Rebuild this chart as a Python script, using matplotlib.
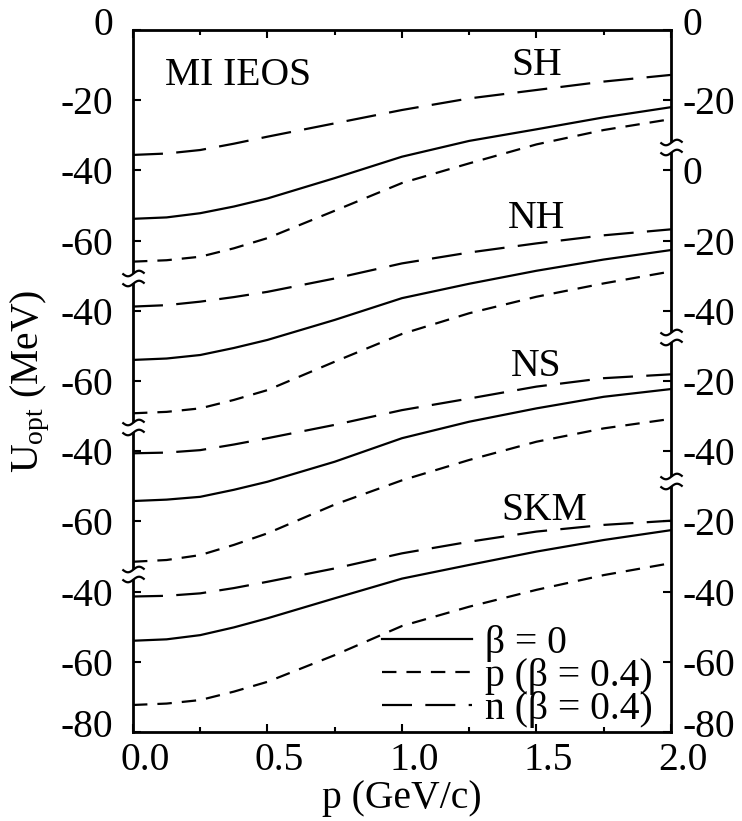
"""Optical potential U_opt vs momentum for the MI IEOS (SH, NH, NS, SKM), stacked panels with broken y axes."""

import numpy as np
import matplotlib
matplotlib.use('Agg')
import matplotlib.pyplot as plt
from matplotlib.path import Path
from matplotlib.ticker import FixedLocator, MultipleLocator
from matplotlib.transforms import blended_transform_factory, ScaledTranslation

plt.rcParams['font.family'] = ['Liberation Serif', 'DejaVu Serif']
plt.rcParams['mathtext.fontset'] = 'custom'
plt.rcParams['mathtext.rm'] = 'Liberation Serif'
plt.rcParams['mathtext.it'] = 'Liberation Serif:italic'

# momentum grid (GeV/c)
p_mom = [0.0, 0.125, 0.25, 0.375, 0.5, 0.75, 1.0, 1.25, 1.5, 1.75, 2.0]

# U_opt (MeV): beta=0, proton (beta=0.4), neutron (beta=0.4)
sh_beta0 = [-53.8, -53.4, -52.2, -50.3, -48.0, -42.2, -36.1, -31.6, -28.3, -24.9, -22.0]
sh_prot = [-66.0, -65.6, -64.6, -62.2, -59.3, -51.5, -43.6, -38.0, -32.6, -28.5, -25.4]
sh_neut = [-35.6, -35.2, -34.2, -32.4, -30.4, -26.6, -22.8, -19.5, -17.1, -14.7, -12.8]

nh_beta0 = [-54.0, -53.6, -52.6, -50.6, -48.3, -42.6, -36.4, -32.3, -28.6, -25.4, -22.7]
nh_prot = [-69.2, -68.8, -67.8, -65.4, -62.6, -54.5, -46.6, -40.7, -36.0, -32.2, -28.8]
nh_neut = [-38.8, -38.4, -37.4, -36.1, -34.6, -30.8, -26.5, -23.4, -20.8, -18.5, -16.8]

ns_beta0 = [-54.2, -53.8, -53.0, -51.0, -48.7, -43.0, -36.3, -31.6, -27.8, -24.5, -22.3]
ns_prot = [-71.5, -71.0, -69.6, -66.7, -63.4, -55.2, -48.3, -42.5, -37.3, -33.5, -30.8]
ns_neut = [-40.6, -40.4, -39.7, -38.1, -36.3, -32.5, -28.3, -25.0, -21.6, -19.2, -18.1]

skm_beta0 = [-54.0, -53.6, -52.4, -50.2, -47.6, -41.9, -36.3, -32.4, -28.6, -25.3, -22.5]
skm_prot = [-72.3, -71.9, -70.9, -68.5, -65.7, -58.1, -49.8, -44.3, -39.5, -35.3, -31.9]
skm_neut = [-41.4, -41.2, -40.5, -39.0, -37.2, -33.4, -29.1, -25.8, -22.9, -21.0, -19.8]

modelos = ['SH', 'NH', 'NS', 'SKM']
curvas = [
    (sh_beta0, sh_prot, sh_neut),
    (nh_beta0, nh_prot, nh_neut),
    (ns_beta0, ns_prot, ns_neut),
    (skm_beta0, skm_prot, skm_neut),
]
# vertical shift of each panel on the common axis
offsets = [0, -40, -80, -120]

# tick values shown on each panel (real MeV values)
left_ticks = [[0, -20, -40, -60], [-40, -60], [-40, -60], [-40, -60, -80]]
right_ticks = [[0, -20], [0, -20, -40], [-20, -40], [-20, -40, -60, -80]]
# where the axis breaks sit (shifted coordinate)
left_breaks = [-70.6, -113.0, -155.0]
right_breaks = [-33.4, -87.4, -128.6]

# model label positions (p, real U)
label_pos = [(1.5, -10.0), (1.5, -13.8), (1.5, -16.0), (1.53, -16.8)]

FS = 28.5
LW = 1.6
short_dash = (6.5, 4.5)
long_dash = (13.5, 6.0)

fig = plt.figure(figsize=(7.42, 8.21), dpi=100)
ax = fig.add_axes([0.1792, 0.1084, 0.7251, 0.8551])

for nome, (b0, pr, ne), off, (lx, ly) in zip(modelos, curvas, offsets, label_pos):
    last = nome == 'SKM'
    ax.plot(p_mom, np.array(b0) + off, color='black', lw=LW,
            label='β = 0' if last else None)
    ax.plot(p_mom, np.array(pr) + off, color='black', lw=LW, dashes=short_dash,
            label='p (β = 0.4)' if last else None)
    ax.plot(p_mom, np.array(ne) + off, color='black', lw=LW, dashes=long_dash,
            label='n (β = 0.4)' if last else None)
    ax.text(lx, ly + off, nome, fontsize=FS, ha='center', va='center')

ax.text(0.39, -13.1, 'MI IEOS', fontsize=FS, ha='center', va='center')

ax.set_xlim(0, 2.0)
ax.set_ylim(-200, 0)

# x axis
ax.xaxis.set_minor_locator(MultipleLocator(0.25))
ax.set_xticks([0.0, 0.5, 1.0, 1.5, 2.0])
ax.set_xticklabels(['0.0', '0.5', '1.0', '1.5', '2.0'])
ax.tick_params(axis='x', which='both', direction='in', top=True, bottom=True,
               labelsize=FS, pad=7)
ax.tick_params(axis='x', which='major', length=6, width=1.5)
ax.tick_params(axis='x', which='minor', length=3.5, width=1.5)
shift = ScaledTranslation(0.12, 0, fig.dpi_scale_trans)
for lab in ax.get_xticklabels():
    lab.set_transform(lab.get_transform() + shift)

# left y axis
lt_pos, lt_lab = [], []
for vals, off in zip(left_ticks, offsets):
    for v in vals:
        lt_pos.append(v + off)
        lt_lab.append(str(v))
ax.yaxis.set_major_locator(FixedLocator(lt_pos))
ax.set_yticklabels(lt_lab)
ax.tick_params(axis='y', direction='in', left=True, right=False, length=6,
               width=1.5, labelsize=FS, pad=14)

# right y axis
ax2 = ax.twinx()
ax2.set_ylim(ax.get_ylim())
rt_pos, rt_lab = [], []
for vals, off in zip(right_ticks, offsets):
    for v in vals:
        rt_pos.append(v + off)
        rt_lab.append(str(v))
ax2.yaxis.set_major_locator(FixedLocator(rt_pos))
ax2.set_yticklabels(rt_lab)
ax2.tick_params(axis='y', direction='in', length=6, width=1.5, labelsize=FS, pad=8)
for s in ax2.spines.values():
    s.set_visible(False)

# the end labels (0 at top, -80 at bottom) sit a bit higher, as in the original
up = ScaledTranslation(0, 0.09, fig.dpi_scale_trans)
for labs in (ax.get_yticklabels(), ax2.get_yticklabels()):
    for lab in (labs[0], labs[-1]):
        lab.set_transform(lab.get_transform() + up)

for s in ax.spines.values():
    s.set_linewidth(2.0)

# axis break marks: two small tildes across the spine
t = np.linspace(-1, 1, 25)
verts = [(x, 0.45 + 0.25 * np.sin(np.pi * x)) for x in t] + \
        [(x, -0.45 + 0.25 * np.sin(np.pi * x)) for x in t]
codes = ([Path.MOVETO] + [Path.LINETO] * (len(t) - 1)) * 2
tilde = Path(verts, codes)
trans = blended_transform_factory(ax.transAxes, ax.transData)
for xa, brks in [(0.0, left_breaks), (1.0, right_breaks)]:
    for yb in brks:
        ax.plot([xa], [yb], marker='s', ms=6, mfc='white', mec='white',
                transform=trans, clip_on=False, zorder=4)
        ax.plot([xa], [yb], marker=tilde, ms=16, mfc='none', mec='black',
                mew=1.6, transform=trans, clip_on=False, zorder=5)

ax.set_ylabel(r'U$_{\rm opt}$ (MeV)', fontsize=FS)
ax.yaxis.set_label_coords(-0.15, 0.5)
ax.set_xlabel('p (GeV/c)', fontsize=FS, labelpad=1)

ax.legend(loc='lower right', bbox_to_anchor=(0.966, 0.006), frameon=False,
          fontsize=FS, handlelength=2.27, handletextpad=0.33, labelspacing=-0.1,
          borderaxespad=0, borderpad=0)

fig.savefig('out.png', dpi=100)
